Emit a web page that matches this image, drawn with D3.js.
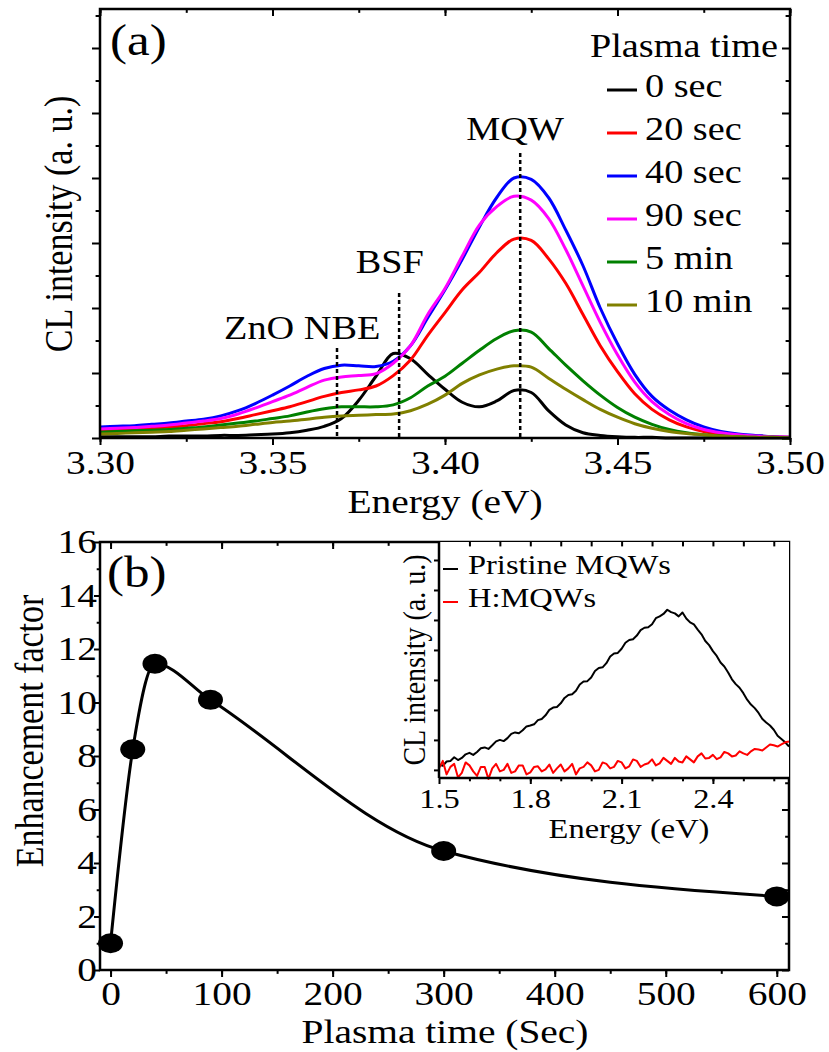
<!DOCTYPE html>
<html>
<head>
<meta charset="utf-8">
<script src="https://cdn.jsdelivr.net/npm/d3@7"></script>
<style>
  body { margin: 0; background: #fff; }
  text { font-family: "Liberation Serif", "Times New Roman", serif; fill: #000; }
</style>
</head>
<body>
<svg id="chart" width="829" height="1052"></svg>
<script>
// ---- panel (a): CL spectra for each plasma time ----
const energyA = [3.300, 3.305, 3.310, 3.315, 3.320, 3.325, 3.330, 3.335, 3.340, 3.345,
                 3.350, 3.355, 3.360, 3.365, 3.370, 3.375, 3.380, 3.385, 3.390, 3.395,
                 3.400, 3.405, 3.410, 3.415, 3.420, 3.425, 3.430, 3.435, 3.440, 3.445,
                 3.450, 3.455, 3.460, 3.465, 3.470, 3.475, 3.480, 3.485, 3.490, 3.495, 3.500];
const cl0s  = [0.02, 0.02, 0.02, 0.02, 0.03, 0.03, 0.03, 0.04, 0.04, 0.05,
               0.06, 0.08, 0.12, 0.18, 0.30, 0.58, 0.95, 1.30, 1.22, 0.98,
               0.75, 0.55, 0.48, 0.57, 0.73, 0.70, 0.42, 0.20, 0.08, 0.04,
               0.02, 0.01, 0.01, 0.00, 0.00, 0.00, 0.00, 0.00, 0.00, 0.00, 0.00];
const cl20s = [0.12, 0.13, 0.14, 0.15, 0.17, 0.19, 0.22, 0.25, 0.30, 0.36,
               0.42, 0.48, 0.56, 0.64, 0.70, 0.74, 0.80, 0.96, 1.20, 1.58,
               1.93, 2.28, 2.55, 2.85, 3.06, 3.04, 2.76, 2.38, 1.90, 1.42,
               1.02, 0.68, 0.44, 0.28, 0.17, 0.10, 0.06, 0.04, 0.03, 0.02, 0.01];
const cl40s = [0.17, 0.18, 0.19, 0.21, 0.23, 0.26, 0.29, 0.34, 0.42, 0.53,
               0.66, 0.80, 0.95, 1.07, 1.12, 1.11, 1.10, 1.18, 1.42, 1.85,
               2.28, 2.75, 3.25, 3.70, 4.00, 3.98, 3.70, 3.20, 2.65, 2.00,
               1.45, 0.98, 0.64, 0.43, 0.28, 0.17, 0.10, 0.06, 0.04, 0.02, 0.01];
const cl90s = [0.14, 0.15, 0.16, 0.18, 0.20, 0.23, 0.26, 0.30, 0.37, 0.46,
               0.56, 0.66, 0.78, 0.89, 0.94, 0.96, 0.99, 1.15, 1.42, 1.90,
               2.30, 2.80, 3.28, 3.56, 3.72, 3.66, 3.38, 2.90, 2.34, 1.78,
               1.28, 0.86, 0.56, 0.36, 0.22, 0.13, 0.08, 0.05, 0.03, 0.02, 0.01];
const cl5m  = [0.09, 0.10, 0.11, 0.12, 0.13, 0.15, 0.17, 0.20, 0.23, 0.26,
               0.30, 0.34, 0.40, 0.45, 0.48, 0.48, 0.48, 0.51, 0.62, 0.80,
               0.95, 1.15, 1.35, 1.53, 1.65, 1.63, 1.38, 1.12, 0.88, 0.66,
               0.47, 0.32, 0.21, 0.13, 0.08, 0.05, 0.03, 0.02, 0.01, 0.01, 0.00];
const cl10m = [0.06, 0.07, 0.08, 0.09, 0.10, 0.12, 0.14, 0.16, 0.18, 0.21,
               0.24, 0.26, 0.29, 0.32, 0.34, 0.35, 0.36, 0.37, 0.42, 0.52,
               0.66, 0.84, 0.97, 1.06, 1.11, 1.09, 0.92, 0.75, 0.59, 0.44,
               0.32, 0.22, 0.15, 0.10, 0.07, 0.05, 0.03, 0.02, 0.01, 0.01, 0.00];
const seriesNames  = ["0 sec", "20 sec", "40 sec", "90 sec", "5 min", "10 min"];
const seriesValues = [cl0s, cl20s, cl40s, cl90s, cl5m, cl10m];
const seriesColors = ["#000000", "#ff0000", "#0000ff", "#ff00ff", "#008000", "#808000"];
const xTicksA = [3.30, 3.35, 3.40, 3.45, 3.50];
const peakNames  = ["ZnO NBE", "BSF", "MQW"];
const peakEnergy = [3.3687, 3.3867, 3.4218];

// ---- panel (b): enhancement factor vs plasma time ----
const plasmaTime  = [0, 20, 40, 90, 300, 600];
const enhancement = [1.0, 8.25, 11.45, 10.1, 4.45, 2.75];
const xTicksB = [0, 100, 200, 300, 400, 500, 600];
const yTicksB = [0, 2, 4, 6, 8, 10, 12, 14, 16];

// ---- inset: pristine vs hydrogenated MQWs ----
const insetEnergy = [1.5000, 1.5125, 1.5250, 1.5375, 1.5500, 1.5625, 1.5750, 1.5875, 1.6000, 1.6125,
                     1.6250, 1.6375, 1.6500, 1.6625, 1.6750, 1.6875, 1.7000, 1.7125, 1.7250, 1.7375,
                     1.7500, 1.7625, 1.7750, 1.7875, 1.8000, 1.8125, 1.8250, 1.8375, 1.8500, 1.8625,
                     1.8750, 1.8875, 1.9000, 1.9125, 1.9250, 1.9375, 1.9500, 1.9625, 1.9750, 1.9875,
                     2.0000, 2.0125, 2.0250, 2.0375, 2.0500, 2.0625, 2.0750, 2.0875, 2.1000, 2.1125,
                     2.1250, 2.1375, 2.1500, 2.1625, 2.1750, 2.1875, 2.2000, 2.2125, 2.2250, 2.2375,
                     2.2500, 2.2625, 2.2750, 2.2875, 2.3000, 2.3125, 2.3250, 2.3375, 2.3500, 2.3625,
                     2.3750, 2.3875, 2.4000, 2.4125, 2.4250, 2.4375, 2.4500, 2.4625, 2.4750, 2.4875,
                     2.5000, 2.5125, 2.5250, 2.5375, 2.5500, 2.5625, 2.5750, 2.5875, 2.6000, 2.6125,
                     2.6250, 2.6375, 2.6500];
const pristine = [0.18, 0.14, 0.28, 0.30, 0.42, 0.33, 0.40, 0.52, 0.57, 0.50,
                  0.60, 0.72, 0.75, 0.70, 0.82, 0.95, 1.00, 0.96, 1.06, 1.20,
                  1.25, 1.22, 1.32, 1.45, 1.48, 1.52, 1.66, 1.70, 1.82, 2.00,
                  2.08, 2.10, 2.22, 2.40, 2.50, 2.52, 2.64, 2.85, 2.95, 2.96,
                  3.08, 3.30, 3.40, 3.42, 3.56, 3.78, 3.88, 3.90, 4.04, 4.24,
                  4.33, 4.36, 4.48, 4.66, 4.74, 4.76, 4.86, 5.06, 5.12, 5.20,
                  5.34, 5.26, 5.22, 5.12, 5.25, 5.05, 4.92, 4.85, 4.68, 4.52,
                  4.30, 4.16, 3.96, 3.80, 3.58, 3.45, 3.25, 3.02, 2.86, 2.74,
                  2.56, 2.34, 2.18, 2.06, 1.90, 1.70, 1.58, 1.48, 1.34, 1.14,
                  1.03, 0.92, 0.78];
const hydrogenated = [0.05, 0.30, -0.15, 0.10, 0.20, -0.25, -0.10, 0.25, 0.15, -0.05,
                      -0.20, 0.10, 0.10, -0.30, 0.05, 0.20, -0.05, 0.00, 0.20, -0.10,
                      -0.05, 0.15, 0.15, -0.15, -0.08, 0.10, 0.12, -0.05, 0.02, 0.18,
                      -0.10, 0.05, 0.18, -0.05, 0.05, 0.20, -0.15, 0.05, 0.10, 0.25,
                      0.15, -0.05, 0.00, 0.25, 0.20, 0.05, 0.10, 0.30, 0.25, 0.05,
                      0.12, 0.35, 0.30, 0.10, 0.18, 0.22, 0.35, 0.15, 0.22, 0.40,
                      0.30, 0.20, 0.40, 0.28, 0.25, 0.45, 0.35, 0.25, 0.45, 0.55,
                      0.38, 0.40, 0.50, 0.36, 0.42, 0.60, 0.55, 0.45, 0.48, 0.62,
                      0.55, 0.50, 0.62, 0.70, 0.68, 0.65, 0.75, 0.85, 0.82, 0.78,
                      0.85, 0.92, 0.95];
const insetNames  = ["Pristine MQWs", "H:MQWs"];
const insetColors = ["#000000", "#ff0000"];
const insetXTicks = [1.5, 1.8, 2.1, 2.4];

// the source picture is stretched sideways, so text is widened a bit
const SX = 1.16;
const svg = d3.select("#chart");

function label(parent, x, y, s, size, anchor, rot) {
  return parent.append("text")
    .attr("transform", "translate(" + x + "," + y + ") scale(" + SX + ",1)" + (rot ? " rotate(-90)" : ""))
    .attr("text-anchor", anchor || "start")
    .style("font-size", size + "px")
    .text(s);
}

// one side of a frame: minor ticks + major ticks (+ labels)
function side(parent, gen, scale, tr, major, minor, size, fmt, pad, fs) {
  const gMin = parent.append("g").attr("transform", tr)
    .call(gen(scale).tickValues(minor).tickSize(size * 0.55).tickFormat(""));
  const gMaj = parent.append("g").attr("transform", tr)
    .call(gen(scale).tickValues(major).tickSize(size).tickPadding(pad || 0).tickFormat(fmt || (() => "")));
  [gMin, gMaj].forEach(g => {
    g.select(".domain").remove();
    g.selectAll("line").attr("stroke", "#000").attr("stroke-width", 2);
  });
  gMaj.selectAll("text").style("font-size", (fs || 34) + "px").attr("transform", "scale(" + SX + ",1)");
  return gMaj;
}

function frame(parent, l, t, r, b) {
  parent.append("rect").attr("x", l).attr("y", t).attr("width", r - l).attr("height", b - t)
    .attr("fill", "none").attr("stroke", "#000").attr("stroke-width", 2.5);
}

// ================= panel (a) =================
const A = { l: 100, t: 9, r: 790, b: 438 };
const xA = d3.scaleLinear().domain([3.30, 3.50]).range([A.l, A.r]);
const yA = d3.scaleLinear().domain([0, 6.6]).range([A.b, A.t]);
const gA = svg.append("g");

const lineA = d3.line().curve(d3.curveCatmullRom.alpha(0.5));
seriesValues.forEach((vals, i) => {
  gA.append("path")
    .attr("d", lineA(vals.map((v, j) => [xA(energyA[j]), yA(v)])))
    .attr("fill", "none").attr("stroke", seriesColors[i]).attr("stroke-width", 3)
    .attr("stroke-linejoin", "round");
});

// dashed peak markers
const peakTop = [1.385, 2.23, 4.385];
const peakLabel = [[3.3586, 1.52], [3.3840, 2.54], [3.4203, 4.58]];
peakNames.forEach((n, i) => {
  gA.append("line")
    .attr("x1", xA(peakEnergy[i])).attr("x2", xA(peakEnergy[i]))
    .attr("y1", yA(peakTop[i])).attr("y2", A.b)
    .attr("stroke", "#000").attr("stroke-width", 2.5).attr("stroke-dasharray", "4,3");
  label(gA, xA(peakLabel[i][0]), yA(peakLabel[i][1]), n, 33, "middle");
});

// legend
label(gA, 778, 57, "Plasma time", 33, "end");
seriesNames.forEach((n, i) => {
  const by = 97 + 43 * i;
  gA.append("line").attr("x1", 607).attr("x2", 637).attr("y1", by - 7).attr("y2", by - 7)
    .attr("stroke", seriesColors[i]).attr("stroke-width", 3);
  label(gA, 645, by, n, 33, "start");
});

const minorXA = d3.range(3.30, 3.5001, 0.025);
const majorYA = d3.range(0, 6.01, 1);
const minorYA = d3.range(0.5, 6.6, 1);
side(gA, d3.axisBottom, xA, "translate(0," + A.b + ")", xTicksA, minorXA, 7, d3.format(".2f"), 5);
side(gA, d3.axisTop, xA, "translate(0," + A.t + ")", xTicksA, minorXA, -7);
side(gA, d3.axisLeft, yA, "translate(" + A.l + ",0)", majorYA, minorYA, 8);
side(gA, d3.axisRight, yA, "translate(" + A.r + ",0)", majorYA, minorYA, -8);
frame(gA, A.l, A.t, A.r, A.b);

label(gA, 72, 224, "CL intensity (a. u.)", 34, "middle", true);
label(gA, 445, 513, "Energy (eV)", 34, "middle");
label(gA, 110, 55, "(a)", 44, "start");

// ================= panel (b) =================
const B = { l: 100, t: 542, r: 789, b: 970 };
const xB = d3.scaleLinear().domain([-9.5, 611]).range([B.l, B.r]);
const yB = d3.scaleLinear().domain([0, 16]).range([B.b, B.t]);
const gB = svg.append("g");

gB.append("path")
  .attr("d", d3.line().curve(d3.curveMonotoneX)(plasmaTime.map((t, i) => [xB(t), yB(enhancement[i])])))
  .attr("fill", "none").attr("stroke", "#000").attr("stroke-width", 3);
gB.selectAll("ellipse.pt").data(plasmaTime).join("ellipse").attr("class", "pt")
  .attr("cx", d => xB(d)).attr("cy", (d, i) => yB(enhancement[i]))
  .attr("rx", 12.5).attr("ry", 10).attr("fill", "#000");

const minorXB = d3.range(0, 601, 50);
const minorYB = d3.range(1, 16, 2);
side(gB, d3.axisBottom, xB, "translate(0," + B.b + ")", xTicksB, minorXB, 7, d3.format("d"), 4);
side(gB, d3.axisTop, xB, "translate(0," + B.t + ")", xTicksB, minorXB, -7);
const by = side(gB, d3.axisLeft, yB, "translate(" + B.l + ",0)", yTicksB, minorYB, 6, d3.format("d"), 0);
by.selectAll("text").attr("x", -3 / SX);
side(gB, d3.axisRight, yB, "translate(" + B.r + ",0)", yTicksB, minorYB, -7);

label(gB, 43, 731, "Enhancement factor", 34, "middle", true);
label(gB, 445, 1043, "Plasma time (Sec)", 34, "middle");
label(gB, 107, 587, "(b)", 44, "start");

// ---- inset ----
const I = { l: 439, t: 542, r: 789, b: 778 };
const xI = d3.scaleLinear().domain([1.5, 2.65]).range([I.l, I.r]);
const yI = d3.scaleLinear().domain([-0.27, 7.6]).range([I.b, I.t]);
const gI = svg.append("g");
gI.append("rect").attr("x", I.l).attr("y", I.t).attr("width", I.r - I.l).attr("height", I.b - I.t).attr("fill", "#fff");

[pristine, hydrogenated].forEach((vals, i) => {
  gI.append("path")
    .attr("d", d3.line()(vals.map((v, j) => [xI(insetEnergy[j]), yI(v)])))
    .attr("fill", "none").attr("stroke", insetColors[i]).attr("stroke-width", 2)
    .attr("stroke-linejoin", "round");
});
insetNames.forEach((n, i) => {
  const ly = 574 + 33 * i;
  gI.append("line").attr("x1", 443).attr("x2", 458).attr("y1", ly - 5).attr("y2", ly - 5)
    .attr("stroke", insetColors[i]).attr("stroke-width", 2);
  label(gI, 468, ly, n, 28, "start");
});

const minorXI = d3.range(1.6, 2.65, 0.1);
side(gI, d3.axisBottom, xI, "translate(0," + I.b + ")", insetXTicks, minorXI, 6, d3.format(".1f"), 4, 28);
side(gI, d3.axisTop, xI, "translate(0," + I.t + ")", [], minorXI, -8);
side(gI, d3.axisLeft, yI, "translate(" + I.l + ",0)", d3.range(0, 7.1, 1), [], 5);
gI.append("line").attr("x1", I.l).attr("x2", I.l).attr("y1", I.t).attr("y2", I.b).attr("stroke", "#000").attr("stroke-width", 2.5);
gI.append("line").attr("x1", I.l).attr("x2", I.r).attr("y1", I.b).attr("y2", I.b).attr("stroke", "#000").attr("stroke-width", 2.5);

label(gI, 425, 660, "CL intensity (a. u.)", 28, "middle", true);
label(gI, 629, 838, "Energy (eV)", 28, "middle");

frame(gB, B.l, B.t, B.r, B.b);
</script>
</body>
</html>
